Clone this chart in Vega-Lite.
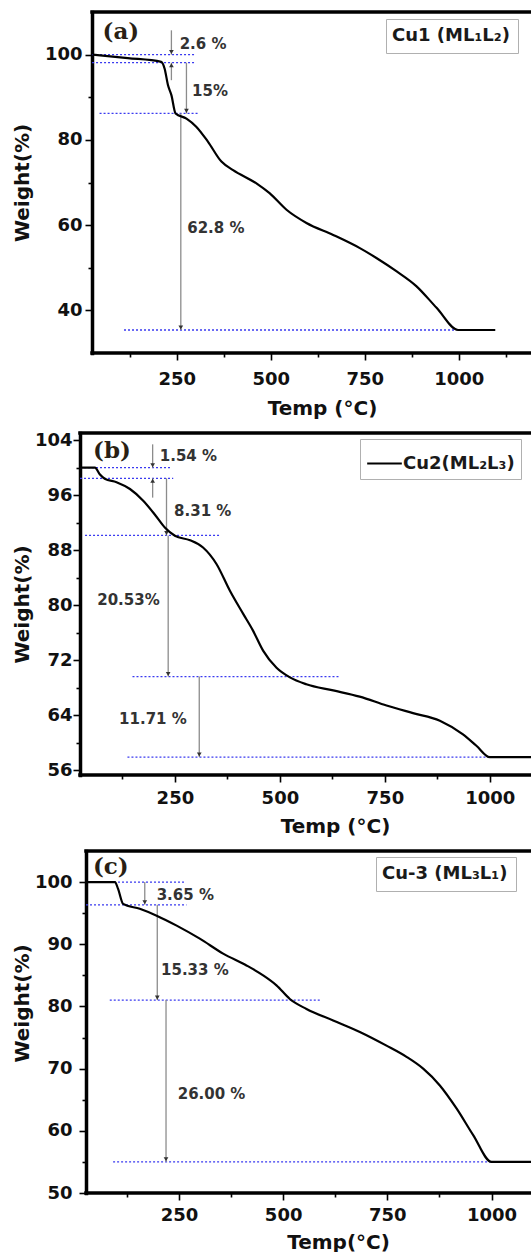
{
  "$schema": "https://vega.github.io/schema/vega-lite/v6.json",
  "background": "white",
  "padding": {"left": 12, "top": 9, "right": 0, "bottom": 0},
  "spacing": 12,
  "columns": 1,
  "align": "none",
  "resolve": {
    "scale": {"x": "independent", "y": "independent", "color": "independent", "shape": "independent"},
    "legend": {"color": "independent", "shape": "independent"}
  },
  "config": {
    "view": {"stroke": null},
    "font": "DejaVu Sans",
    "axis": {
      "grid": false, "domainColor": "#000000", "domainWidth": 3.5, "domainCap": "square",
      "tickColor": "#000000", "tickWidth": 1.6,
      "labelFont": "DejaVu Sans", "labelFontWeight": "bold", "labelFontSize": 18, "labelColor": "#111111",
      "titleFont": "DejaVu Sans", "titleFontWeight": "bold", "titleFontSize": 20, "titleColor": "#111111",
      "labelOverlap": false, "labelFlush": false
    },
    "legend": {
      "labelFont": "DejaVu Sans", "labelFontWeight": "bold", "labelFontSize": 18, "labelColor": "#1a1a1a",
      "strokeColor": "#b0b0b0", "fillColor": "#ffffff", "padding": 7, "cornerRadius": 0, "title": null
    }
  },
  "concat": [
    {
      "width": 451, "height": 341,
      "resolve": {"axis": {"x": "independent", "y": "independent"}},
      "layer": [
        {
          "data": {"values": [{"x": 25, "x2": 1192, "y": 110}, {"x": 25, "x2": 1192, "y": 30}]},
          "mark": {"type": "rule", "color": "#000000", "strokeWidth": 3.5, "strokeCap": "square"},
          "encoding": {
            "x": {"field": "x", "type": "quantitative", "scale": {"domain": [-7, 1192], "nice": false, "zero": false}, "axis": null},
            "x2": {"field": "x2"},
            "y": {"field": "y", "type": "quantitative", "scale": {"domain": [30, 110], "nice": false, "zero": false}, "axis": null}
          }
        },
        {
          "data": {"values": [
            {"x": 25, "x2": 300, "y": 100}, {"x": 25, "x2": 300, "y": 98.1},
            {"x": 45, "x2": 308, "y": 86.2}, {"x": 110, "x2": 990, "y": 35.4}
          ]},
          "mark": {"type": "rule", "color": "#3a3af0", "strokeDash": [2, 2], "strokeWidth": 1.3},
          "encoding": {
            "x": {"field": "x", "type": "quantitative", "scale": {"domain": [-7, 1192], "nice": false, "zero": false}, "axis": null},
            "x2": {"field": "x2"},
            "y": {"field": "y", "type": "quantitative", "scale": {"domain": [30, 110], "nice": false, "zero": false}, "axis": null}
          }
        },
        {
          "data": {"values": [
            {"x": 236, "y": 105.7, "y2": 100}, {"x": 236, "y": 94, "y2": 98.1},
            {"x": 276, "y": 98.1, "y2": 86.2}, {"x": 261, "y": 86.2, "y2": 35.4}
          ]},
          "mark": {"type": "rule", "color": "#8c8c8c", "strokeWidth": 1.3},
          "encoding": {
            "x": {"field": "x", "type": "quantitative", "scale": {"domain": [-7, 1192], "nice": false, "zero": false}, "axis": null},
            "y": {"field": "y", "type": "quantitative", "scale": {"domain": [30, 110], "nice": false, "zero": false}, "axis": null},
            "y2": {"field": "y2"}
          }
        },
        {
          "data": {"values": [
            {"x": 236, "y": 100.6, "dir": "down"}, {"x": 236, "y": 97.5, "dir": "up"},
            {"x": 276, "y": 86.8, "dir": "down"}, {"x": 261, "y": 36.0, "dir": "down"}
          ]},
          "mark": {"type": "point", "filled": true, "size": 22, "color": "#333333", "opacity": 1},
          "encoding": {
            "x": {"field": "x", "type": "quantitative", "scale": {"domain": [-7, 1192], "nice": false, "zero": false}, "axis": null},
            "y": {"field": "y", "type": "quantitative", "scale": {"domain": [30, 110], "nice": false, "zero": false}, "axis": null},
            "shape": {"field": "dir", "type": "nominal", "scale": {"domain": ["down", "up"], "range": ["triangle-down", "triangle-up"]}, "legend": null}
          }
        },
        {
          "data": {"values": [
            {"x": 258, "y": 102.6, "t": "2.6 %"}, {"x": 291, "y": 91.4, "t": "15%"}, {"x": 278, "y": 59.3, "t": "62.8 %"}
          ]},
          "mark": {"type": "text", "align": "left", "baseline": "middle", "font": "DejaVu Sans", "fontWeight": "bold", "fontSize": 15, "color": "#333333"},
          "encoding": {
            "x": {"field": "x", "type": "quantitative", "scale": {"domain": [-7, 1192], "nice": false, "zero": false}, "axis": null},
            "y": {"field": "y", "type": "quantitative", "scale": {"domain": [30, 110], "nice": false, "zero": false}, "axis": null},
            "text": {"field": "t"}
          }
        },
        {
          "data": {"values": [{"x": 53, "y": 105.4, "t": "(a)"}]},
          "mark": {"type": "text", "align": "left", "baseline": "middle", "font": "DejaVu Serif", "fontWeight": "bold", "fontSize": 23, "color": "#2a1f14"},
          "encoding": {
            "x": {"field": "x", "type": "quantitative", "scale": {"domain": [-7, 1192], "nice": false, "zero": false}, "axis": null},
            "y": {"field": "y", "type": "quantitative", "scale": {"domain": [30, 110], "nice": false, "zero": false}, "axis": null},
            "text": {"field": "t"}
          }
        },
        {
          "data": {"values": [
            {"temp": 26, "w": 100, "s": "Cu1 (ML₁L₂)"}, {"temp": 120, "w": 99.2, "s": "Cu1 (ML₁L₂)"},
            {"temp": 209, "w": 98.3, "s": "Cu1 (ML₁L₂)"}, {"temp": 218, "w": 96.7, "s": "Cu1 (ML₁L₂)"},
            {"temp": 227, "w": 92.8, "s": "Cu1 (ML₁L₂)"}, {"temp": 236, "w": 90.5, "s": "Cu1 (ML₁L₂)"},
            {"temp": 247, "w": 86.2, "s": "Cu1 (ML₁L₂)"}, {"temp": 276, "w": 85.0, "s": "Cu1 (ML₁L₂)"},
            {"temp": 302, "w": 83.1, "s": "Cu1 (ML₁L₂)"}, {"temp": 333, "w": 79.6, "s": "Cu1 (ML₁L₂)"},
            {"temp": 369, "w": 74.9, "s": "Cu1 (ML₁L₂)"}, {"temp": 400, "w": 72.9, "s": "Cu1 (ML₁L₂)"},
            {"temp": 462, "w": 69.8, "s": "Cu1 (ML₁L₂)"}, {"temp": 497, "w": 67.5, "s": "Cu1 (ML₁L₂)"},
            {"temp": 542, "w": 63.6, "s": "Cu1 (ML₁L₂)"}, {"temp": 595, "w": 60.5, "s": "Cu1 (ML₁L₂)"},
            {"temp": 666, "w": 57.7, "s": "Cu1 (ML₁L₂)"}, {"temp": 737, "w": 54.6, "s": "Cu1 (ML₁L₂)"},
            {"temp": 781, "w": 52.3, "s": "Cu1 (ML₁L₂)"}, {"temp": 834, "w": 49.2, "s": "Cu1 (ML₁L₂)"},
            {"temp": 887, "w": 45.7, "s": "Cu1 (ML₁L₂)"}, {"temp": 941, "w": 40.6, "s": "Cu1 (ML₁L₂)"},
            {"temp": 998, "w": 35.4, "s": "Cu1 (ML₁L₂)"}, {"temp": 1097, "w": 35.4, "s": "Cu1 (ML₁L₂)"}
          ]},
          "mark": {"type": "line", "strokeWidth": 2.2, "interpolate": "monotone"},
          "encoding": {
            "x": {"field": "temp", "type": "quantitative", "scale": {"domain": [-7, 1192], "nice": false, "zero": false},
                  "axis": {"title": "Temp (°C)", "domain": false, "values": [125, 250, 375, 500, 625, 750, 875, 1000, 1125], "format": "d",
                           "labelExpr": "datum.value % 250 === 0 ? datum.label : ''",
                           "tickSize": {"condition": {"test": "datum.value % 250 === 0", "value": 7}, "value": 4},
                           "labelPadding": 10, "titlePadding": 10, "titleX": 242}},
            "y": {"field": "w", "type": "quantitative", "scale": {"domain": [30, 110], "nice": false, "zero": false},
                  "axis": {"title": "Weight(%)", "offset": -12, "values": [40, 50, 60, 70, 80, 90, 100],
                           "labelExpr": "datum.value % 20 === 0 ? datum.label : ''",
                           "tickSize": {"condition": {"test": "datum.value % 20 === 0", "value": 7}, "value": 4},
                           "labelPadding": 3, "titlePadding": 12}},
            "color": {"field": "s", "type": "nominal", "scale": {"range": ["#000000"]},
                      "legend": {"orient": "none", "legendX": 306, "legendY": 7, "symbolSize": 0, "symbolOpacity": 0, "symbolStrokeWidth": 0, "labelOffset": -20, "padding": 8}}
          }
        }
      ]
    },
    {
      "width": 451, "height": 342,
      "resolve": {"axis": {"x": "independent", "y": "independent"}},
      "layer": [
        {
          "data": {"values": [{"x": 24, "x2": 1098, "y": 105.05}, {"x": 24, "x2": 1098, "y": 55.3}]},
          "mark": {"type": "rule", "color": "#000000", "strokeWidth": 3.5, "strokeCap": "square"},
          "encoding": {
            "x": {"field": "x", "type": "quantitative", "scale": {"domain": [24, 1098], "nice": false, "zero": false}, "axis": null},
            "x2": {"field": "x2"},
            "y": {"field": "y", "type": "quantitative", "scale": {"domain": [55.3, 105.05], "nice": false, "zero": false}, "axis": null}
          }
        },
        {
          "data": {"values": [
            {"x": 24, "x2": 243, "y": 100}, {"x": 24, "x2": 246, "y": 98.46},
            {"x": 36, "x2": 357, "y": 90.15}, {"x": 149, "x2": 643, "y": 69.62}, {"x": 137, "x2": 1007, "y": 57.91}
          ]},
          "mark": {"type": "rule", "color": "#3a3af0", "strokeDash": [2, 2], "strokeWidth": 1.3},
          "encoding": {
            "x": {"field": "x", "type": "quantitative", "scale": {"domain": [24, 1098], "nice": false, "zero": false}, "axis": null},
            "x2": {"field": "x2"},
            "y": {"field": "y", "type": "quantitative", "scale": {"domain": [55.3, 105.05], "nice": false, "zero": false}, "axis": null}
          }
        },
        {
          "data": {"values": [
            {"x": 197, "y": 103.4, "y2": 100}, {"x": 197, "y": 95.65, "y2": 98.46},
            {"x": 230, "y": 98.46, "y2": 90.15}, {"x": 234, "y": 90.15, "y2": 69.62}, {"x": 308, "y": 69.62, "y2": 57.91}
          ]},
          "mark": {"type": "rule", "color": "#8c8c8c", "strokeWidth": 1.3},
          "encoding": {
            "x": {"field": "x", "type": "quantitative", "scale": {"domain": [24, 1098], "nice": false, "zero": false}, "axis": null},
            "y": {"field": "y", "type": "quantitative", "scale": {"domain": [55.3, 105.05], "nice": false, "zero": false}, "axis": null},
            "y2": {"field": "y2"}
          }
        },
        {
          "data": {"values": [
            {"x": 197, "y": 100.36, "dir": "down"}, {"x": 197, "y": 98.1, "dir": "up"},
            {"x": 230, "y": 90.5, "dir": "down"}, {"x": 234, "y": 69.98, "dir": "down"}, {"x": 308, "y": 58.27, "dir": "down"}
          ]},
          "mark": {"type": "point", "filled": true, "size": 22, "color": "#333333", "opacity": 1},
          "encoding": {
            "x": {"field": "x", "type": "quantitative", "scale": {"domain": [24, 1098], "nice": false, "zero": false}, "axis": null},
            "y": {"field": "y", "type": "quantitative", "scale": {"domain": [55.3, 105.05], "nice": false, "zero": false}, "axis": null},
            "shape": {"field": "dir", "type": "nominal", "scale": {"domain": ["down", "up"], "range": ["triangle-down", "triangle-up"]}, "legend": null}
          }
        },
        {
          "data": {"values": [
            {"x": 214, "y": 101.7, "t": "1.54 %"}, {"x": 248, "y": 93.7, "t": "8.31 %"},
            {"x": 65, "y": 80.8, "t": "20.53%"}, {"x": 117, "y": 63.4, "t": "11.71 %"}
          ]},
          "mark": {"type": "text", "align": "left", "baseline": "middle", "font": "DejaVu Sans", "fontWeight": "bold", "fontSize": 15, "color": "#333333"},
          "encoding": {
            "x": {"field": "x", "type": "quantitative", "scale": {"domain": [24, 1098], "nice": false, "zero": false}, "axis": null},
            "y": {"field": "y", "type": "quantitative", "scale": {"domain": [55.3, 105.05], "nice": false, "zero": false}, "axis": null},
            "text": {"field": "t"}
          }
        },
        {
          "data": {"values": [{"x": 55, "y": 102.4, "t": "(b)"}]},
          "mark": {"type": "text", "align": "left", "baseline": "middle", "font": "DejaVu Serif", "fontWeight": "bold", "fontSize": 23, "color": "#2a1f14"},
          "encoding": {
            "x": {"field": "x", "type": "quantitative", "scale": {"domain": [24, 1098], "nice": false, "zero": false}, "axis": null},
            "y": {"field": "y", "type": "quantitative", "scale": {"domain": [55.3, 105.05], "nice": false, "zero": false}, "axis": null},
            "text": {"field": "t"}
          }
        },
        {
          "data": {"values": [
            {"temp": 24, "w": 100, "s": "Cu2(ML₂L₃)"}, {"temp": 59.5, "w": 100, "s": "Cu2(ML₂L₃)"},
            {"temp": 71, "w": 99.05, "s": "Cu2(ML₂L₃)"}, {"temp": 83, "w": 98.4, "s": "Cu2(ML₂L₃)"},
            {"temp": 111, "w": 97.9, "s": "Cu2(ML₂L₃)"}, {"temp": 143, "w": 96.9, "s": "Cu2(ML₂L₃)"},
            {"temp": 174.5, "w": 95.2, "s": "Cu2(ML₂L₃)"}, {"temp": 202, "w": 93.2, "s": "Cu2(ML₂L₃)"},
            {"temp": 226, "w": 91.3, "s": "Cu2(ML₂L₃)"}, {"temp": 250, "w": 90.1, "s": "Cu2(ML₂L₃)"},
            {"temp": 286, "w": 89.45, "s": "Cu2(ML₂L₃)"}, {"temp": 317, "w": 88.4, "s": "Cu2(ML₂L₃)"},
            {"temp": 349, "w": 86.0, "s": "Cu2(ML₂L₃)"}, {"temp": 381, "w": 82.1, "s": "Cu2(ML₂L₃)"},
            {"temp": 413, "w": 78.7, "s": "Cu2(ML₂L₃)"}, {"temp": 436, "w": 76.3, "s": "Cu2(ML₂L₃)"},
            {"temp": 460, "w": 73.4, "s": "Cu2(ML₂L₃)"}, {"temp": 492, "w": 70.9, "s": "Cu2(ML₂L₃)"},
            {"temp": 524, "w": 69.5, "s": "Cu2(ML₂L₃)"}, {"temp": 563, "w": 68.5, "s": "Cu2(ML₂L₃)"},
            {"temp": 627, "w": 67.6, "s": "Cu2(ML₂L₃)"}, {"temp": 690, "w": 66.7, "s": "Cu2(ML₂L₃)"},
            {"temp": 754, "w": 65.4, "s": "Cu2(ML₂L₃)"}, {"temp": 817, "w": 64.3, "s": "Cu2(ML₂L₃)"},
            {"temp": 881, "w": 63.2, "s": "Cu2(ML₂L₃)"}, {"temp": 936, "w": 61.2, "s": "Cu2(ML₂L₃)"},
            {"temp": 968, "w": 59.55, "s": "Cu2(ML₂L₃)"}, {"temp": 1000, "w": 57.9, "s": "Cu2(ML₂L₃)"},
            {"temp": 1098, "w": 57.9, "s": "Cu2(ML₂L₃)"}
          ]},
          "mark": {"type": "line", "strokeWidth": 2.2, "interpolate": "monotone"},
          "encoding": {
            "x": {"field": "temp", "type": "quantitative", "scale": {"domain": [24, 1098], "nice": false, "zero": false},
                  "axis": {"title": "Temp (°C)", "domain": false, "values": [125, 250, 375, 500, 625, 750, 875, 1000], "format": "d",
                           "labelExpr": "datum.value % 250 === 0 ? datum.label : ''",
                           "tickSize": {"condition": {"test": "datum.value % 250 === 0", "value": 7}, "value": 4},
                           "labelPadding": 7, "titlePadding": 9, "titleX": 255}},
            "y": {"field": "w", "type": "quantitative", "scale": {"domain": [55.3, 105.05], "nice": false, "zero": false},
                  "axis": {"title": "Weight(%)", "values": [56, 60, 64, 68, 72, 76, 80, 84, 88, 92, 96, 100, 104],
                           "labelExpr": "(datum.value - 56) % 8 === 0 ? datum.label : ''",
                           "tickSize": {"condition": {"test": "(datum.value - 56) % 8 === 0", "value": 7}, "value": 4},
                           "labelPadding": 1, "titlePadding": 2}},
            "color": {"field": "s", "type": "nominal", "scale": {"range": ["#000000"]},
                      "legend": {"orient": "none", "legendX": 280, "legendY": 6, "symbolType": "stroke", "symbolSize": 1200, "symbolStrokeWidth": 2, "symbolStrokeColor": "#000000", "labelOffset": 0, "padding": 6}}
          }
        }
      ]
    },
    {
      "width": 451, "height": 342,
      "resolve": {"axis": {"x": "independent", "y": "independent"}},
      "layer": [
        {
          "data": {"values": [{"x": 27, "x2": 1094.7, "y": 105}, {"x": 27, "x2": 1094.7, "y": 50}]},
          "mark": {"type": "rule", "color": "#000000", "strokeWidth": 3.5, "strokeCap": "square"},
          "encoding": {
            "x": {"field": "x", "type": "quantitative", "scale": {"domain": [12.6, 1094.7], "nice": false, "zero": false}, "axis": null},
            "x2": {"field": "x2"},
            "y": {"field": "y", "type": "quantitative", "scale": {"domain": [50, 105], "nice": false, "zero": false}, "axis": null}
          }
        },
        {
          "data": {"values": [
            {"x": 27, "x2": 266, "y": 100}, {"x": 27, "x2": 268, "y": 96.35},
            {"x": 84, "x2": 588, "y": 81.02}, {"x": 92, "x2": 1000, "y": 55.02}
          ]},
          "mark": {"type": "rule", "color": "#3a3af0", "strokeDash": [2, 2], "strokeWidth": 1.3},
          "encoding": {
            "x": {"field": "x", "type": "quantitative", "scale": {"domain": [12.6, 1094.7], "nice": false, "zero": false}, "axis": null},
            "x2": {"field": "x2"},
            "y": {"field": "y", "type": "quantitative", "scale": {"domain": [50, 105], "nice": false, "zero": false}, "axis": null}
          }
        },
        {
          "data": {"values": [
            {"x": 168, "y": 100, "y2": 96.35}, {"x": 198, "y": 96.35, "y2": 81.02}, {"x": 219, "y": 81.02, "y2": 55.02}
          ]},
          "mark": {"type": "rule", "color": "#8c8c8c", "strokeWidth": 1.3},
          "encoding": {
            "x": {"field": "x", "type": "quantitative", "scale": {"domain": [12.6, 1094.7], "nice": false, "zero": false}, "axis": null},
            "y": {"field": "y", "type": "quantitative", "scale": {"domain": [50, 105], "nice": false, "zero": false}, "axis": null},
            "y2": {"field": "y2"}
          }
        },
        {
          "data": {"values": [
            {"x": 168, "y": 96.75, "dir": "down"}, {"x": 198, "y": 81.42, "dir": "down"}, {"x": 219, "y": 55.42, "dir": "down"}
          ]},
          "mark": {"type": "point", "filled": true, "size": 22, "color": "#333333", "opacity": 1},
          "encoding": {
            "x": {"field": "x", "type": "quantitative", "scale": {"domain": [12.6, 1094.7], "nice": false, "zero": false}, "axis": null},
            "y": {"field": "y", "type": "quantitative", "scale": {"domain": [50, 105], "nice": false, "zero": false}, "axis": null},
            "shape": {"field": "dir", "type": "nominal", "scale": {"domain": ["down", "up"], "range": ["triangle-down", "triangle-up"]}, "legend": null}
          }
        },
        {
          "data": {"values": [
            {"x": 196.5, "y": 97.96, "t": "3.65 %"}, {"x": 207, "y": 85.8, "t": "15.33 %"}, {"x": 247, "y": 66.0, "t": "26.00 %"}
          ]},
          "mark": {"type": "text", "align": "left", "baseline": "middle", "font": "DejaVu Sans", "fontWeight": "bold", "fontSize": 15, "color": "#333333"},
          "encoding": {
            "x": {"field": "x", "type": "quantitative", "scale": {"domain": [12.6, 1094.7], "nice": false, "zero": false}, "axis": null},
            "y": {"field": "y", "type": "quantitative", "scale": {"domain": [50, 105], "nice": false, "zero": false}, "axis": null},
            "text": {"field": "t"}
          }
        },
        {
          "data": {"values": [{"x": 43.7, "y": 102.5, "t": "(c)"}]},
          "mark": {"type": "text", "align": "left", "baseline": "middle", "font": "DejaVu Serif", "fontWeight": "bold", "fontSize": 23, "color": "#2a1f14"},
          "encoding": {
            "x": {"field": "x", "type": "quantitative", "scale": {"domain": [12.6, 1094.7], "nice": false, "zero": false}, "axis": null},
            "y": {"field": "y", "type": "quantitative", "scale": {"domain": [50, 105], "nice": false, "zero": false}, "axis": null},
            "text": {"field": "t"}
          }
        },
        {
          "data": {"values": [
            {"temp": 27, "w": 100, "s": "Cu-3 (ML₃L₁)"}, {"temp": 96.5, "w": 100, "s": "Cu-3 (ML₃L₁)"},
            {"temp": 104, "w": 98.9, "s": "Cu-3 (ML₃L₁)"}, {"temp": 116, "w": 96.5, "s": "Cu-3 (ML₃L₁)"},
            {"temp": 156, "w": 95.7, "s": "Cu-3 (ML₃L₁)"}, {"temp": 196.5, "w": 94.6, "s": "Cu-3 (ML₃L₁)"},
            {"temp": 244.5, "w": 93.0, "s": "Cu-3 (ML₃L₁)"}, {"temp": 300, "w": 90.9, "s": "Cu-3 (ML₃L₁)"},
            {"temp": 356, "w": 88.5, "s": "Cu-3 (ML₃L₁)"}, {"temp": 412, "w": 86.6, "s": "Cu-3 (ML₃L₁)"},
            {"temp": 452, "w": 85.0, "s": "Cu-3 (ML₃L₁)"}, {"temp": 484, "w": 83.4, "s": "Cu-3 (ML₃L₁)"},
            {"temp": 516, "w": 81.2, "s": "Cu-3 (ML₃L₁)"}, {"temp": 556, "w": 79.6, "s": "Cu-3 (ML₃L₁)"},
            {"temp": 620, "w": 77.75, "s": "Cu-3 (ML₃L₁)"}, {"temp": 684, "w": 75.9, "s": "Cu-3 (ML₃L₁)"},
            {"temp": 748, "w": 73.7, "s": "Cu-3 (ML₃L₁)"}, {"temp": 796, "w": 71.9, "s": "Cu-3 (ML₃L₁)"},
            {"temp": 836, "w": 70.0, "s": "Cu-3 (ML₃L₁)"}, {"temp": 876, "w": 67.3, "s": "Cu-3 (ML₃L₁)"},
            {"temp": 916, "w": 63.6, "s": "Cu-3 (ML₃L₁)"}, {"temp": 956, "w": 59.3, "s": "Cu-3 (ML₃L₁)"},
            {"temp": 1000, "w": 55.0, "s": "Cu-3 (ML₃L₁)"}, {"temp": 1095, "w": 55.0, "s": "Cu-3 (ML₃L₁)"}
          ]},
          "mark": {"type": "line", "strokeWidth": 2.2, "interpolate": "monotone"},
          "encoding": {
            "x": {"field": "temp", "type": "quantitative", "scale": {"domain": [12.6, 1094.7], "nice": false, "zero": false},
                  "axis": {"title": "Temp(°C)", "domain": false, "values": [125, 250, 375, 500, 625, 750, 875, 1000], "format": "d",
                           "labelExpr": "datum.value % 250 === 0 ? datum.label : ''",
                           "tickSize": {"condition": {"test": "datum.value % 250 === 0", "value": 7}, "value": 4},
                           "labelPadding": 6, "titlePadding": 8, "titleX": 258}},
            "y": {"field": "w", "type": "quantitative", "scale": {"domain": [50, 105], "nice": false, "zero": false},
                  "axis": {"title": "Weight(%)", "offset": -6, "values": [50, 55, 60, 65, 70, 75, 80, 85, 90, 95, 100],
                           "labelExpr": "datum.value % 10 === 0 ? datum.label : ''",
                           "tickSize": {"condition": {"test": "datum.value % 10 === 0", "value": 7}, "value": 4},
                           "labelPadding": 7, "titlePadding": 2, "titleY": 152}},
            "color": {"field": "s", "type": "nominal", "scale": {"range": ["#000000"]},
                      "legend": {"orient": "none", "legendX": 296, "legendY": 6, "symbolSize": 0, "symbolOpacity": 0, "symbolStrokeWidth": 0, "labelOffset": -20, "padding": 8}}
          }
        }
      ]
    }
  ]
}
